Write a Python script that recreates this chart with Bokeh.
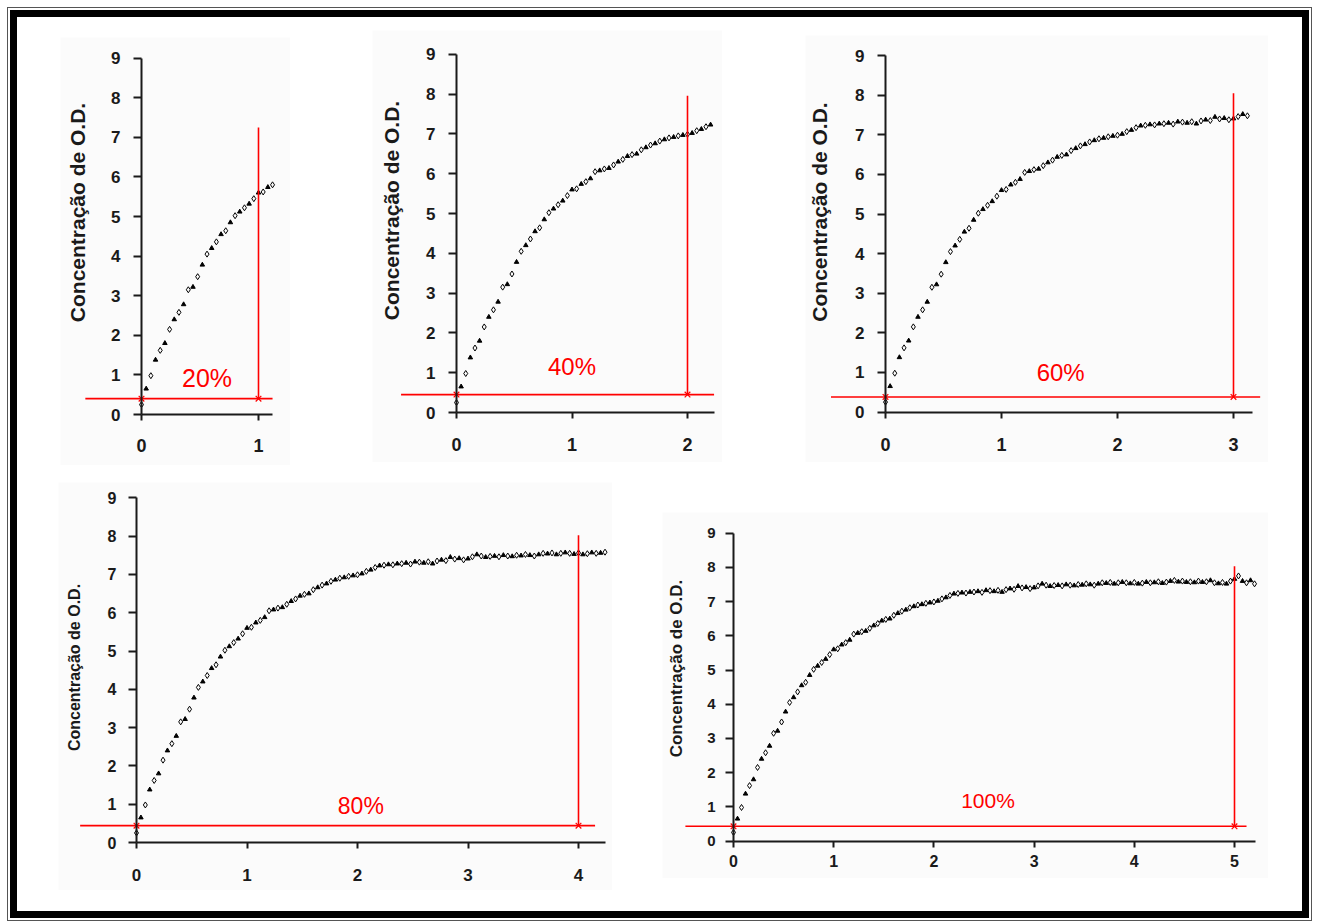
import numpy as np
from bokeh.plotting import figure
from bokeh.models import Range1d, FixedTicker, LinearAxis, Spacer, ColumnDataSource
from bokeh.layouts import row, column
from bokeh.embed import file_html
from bokeh.resources import INLINE
from bokeh.core.properties import value

# ---------------- data ----------------
SAMPLE_STEP = 0.04  # time between readings
od_values = [
    0.25, 0.65, 0.98, 1.38, 1.62, 1.80, 2.15, 2.40, 2.58, 2.78,
    3.15, 3.22, 3.48, 3.78, 4.05, 4.20, 4.36, 4.55, 4.64, 4.85,
    5.02, 5.12, 5.22, 5.32, 5.45, 5.60, 5.62, 5.74, 5.80, 5.88,
    6.05, 6.08, 6.12, 6.14, 6.22, 6.30, 6.36, 6.44, 6.48, 6.50,
    6.60, 6.66, 6.72, 6.76, 6.82, 6.86, 6.90, 6.92, 6.95, 6.97,
    6.99, 7.02, 7.08, 7.12, 7.18, 7.23, 7.24, 7.26, 7.25, 7.28,
    7.28, 7.30, 7.27, 7.33, 7.32, 7.30, 7.33, 7.28, 7.35, 7.38,
    7.36, 7.45, 7.40, 7.42, 7.38, 7.41, 7.46, 7.52, 7.48, 7.45,
    7.47, 7.48, 7.46, 7.50, 7.48, 7.47, 7.50, 7.49, 7.52, 7.50,
    7.48, 7.52, 7.55, 7.54, 7.56, 7.52, 7.55, 7.57, 7.55, 7.53,
    7.56, 7.52, 7.54, 7.57, 7.55, 7.56, 7.58, 7.54, 7.57, 7.60,
    7.62, 7.58, 7.60, 7.57, 7.58, 7.56, 7.60, 7.57, 7.58, 7.62,
    7.55, 7.53, 7.56, 7.52, 7.60, 7.66, 7.75, 7.60, 7.55, 7.62,
    7.52,
]
time_values = [round(i * SAMPLE_STEP, 2) for i in range(len(od_values))]

panel_labels = ["20%", "40%", "60%", "80%", "100%"]
panel_end_time = [1.12, 2.20, 3.12, 4.24, 5.20]
x_tick_values = [[0, 1], [0, 1, 2], [0, 1, 2, 3], [0, 1, 2, 3, 4], [0, 1, 2, 3, 4, 5]]
y_tick_values = [0, 1, 2, 3, 4, 5, 6, 7, 8, 9]
threshold_od = [0.40, 0.45, 0.38, 0.44, 0.43]
cut_time = [1, 2, 3, 4, 5]
cut_top_od = [7.25, 7.96, 8.05, 8.02, 8.03]
y_title = "Concentração de O.D."

# ---------------- layout / style (screen geometry) ----------------
ORIGIN = 17  # inner frame origin (px)
PANELS = [
    dict(left=60, top=37, w=230, h=428, x0=141, sx=117.0, y0=414.0, sy=39.6,
         xend=1.12, red_left=-0.48, red_right=1.12, lab_x=0.56, lab_y=0.91, lab_fs=25,
         tick_fs=17, xtick_fs=18, title_fs=21, title_c=5.10, title_off=53, xstand=18, ystand=13),
    dict(left=372, top=30, w=350, h=432, x0=456, sx=115.5, y0=412.0, sy=39.8,
         xend=2.23, red_left=-0.48, red_right=2.23, lab_x=1.0, lab_y=1.16, lab_fs=24,
         tick_fs=17, xtick_fs=18, title_fs=21, title_c=5.08, title_off=54, xstand=19, ystand=13),
    dict(left=805, top=35, w=463, h=427, x0=885, sx=116.0, y0=411.5, sy=39.6,
         xend=3.16, red_left=-0.47, red_right=3.23, lab_x=1.51, lab_y=1.01, lab_fs=24,
         tick_fs=17, xtick_fs=18, title_fs=21, title_c=5.06, title_off=55, xstand=20, ystand=13),
    dict(left=58, top=482, w=554, h=408, x0=136, sx=110.5, y0=842.0, sy=38.3,
         xend=4.24, red_left=-0.51, red_right=4.15, lab_x=2.03, lab_y=0.94, lab_fs=23,
         tick_fs=16, xtick_fs=17, title_fs=16, title_c=4.57, title_off=54, xstand=20, ystand=12),
    dict(left=662, top=512, w=606, h=366, x0=733, sx=100.2, y0=840.5, sy=34.2,
         xend=5.21, red_left=-0.48, red_right=5.12, lab_x=2.54, lab_y=1.19, lab_fs=21,
         tick_fs=15, xtick_fs=16, title_fs=17, title_c=5.04, title_off=48, xstand=8, ystand=10),
]
ROWS = [(0, 1, 2), (3, 4)]
ROW_TOP = [ORIGIN, 465]
ROW_BOTTOM = [465, 911]
INNER_RIGHT = 1302
FONT = "Liberation Sans"
PANEL_BG = "#fbfbfb"
AXIS_COLOR = "#1a1a1a"
RED = "#ff0000"


def make_panel(i):
    g = PANELS[i]
    xr = Range1d((g["left"] - g["x0"]) / g["sx"], (g["left"] + g["w"] - g["x0"]) / g["sx"])
    yr = Range1d((g["y0"] - (g["top"] + g["h"])) / g["sy"], (g["y0"] - g["top"]) / g["sy"])
    p = figure(width=g["w"], height=g["h"], x_range=xr, y_range=yr,
               output_backend="svg", toolbar_location=None, min_border=0,
               background_fill_color=PANEL_BG, border_fill_color=PANEL_BG,
               outline_line_color=None)
    p.grid.visible = False

    # axes fixed at the origin
    xa = p.xaxis[0]
    ya = p.yaxis[0]
    xa.fixed_location = 0
    ya.fixed_location = 0
    xa.bounds = (0, g["xend"])
    ya.bounds = (0, 9)
    xa.ticker = FixedTicker(ticks=x_tick_values[i])
    ya.ticker = FixedTicker(ticks=y_tick_values)
    for ax in (xa, ya):
        ax.axis_line_color = AXIS_COLOR
        ax.axis_line_width = 2
        ax.major_tick_line_color = AXIS_COLOR
        ax.major_tick_line_width = 2
        ax.major_tick_in = 0
        ax.minor_tick_line_color = None
        ax.major_label_text_font = FONT
        ax.major_label_text_font_style = "bold"
        ax.major_label_text_color = AXIS_COLOR
    ya.major_tick_out = 8
    xa.major_tick_out = 6
    ya.major_label_text_font_size = f"{g['tick_fs']}px"
    xa.major_label_text_font_size = f"{g['xtick_fs']}px"
    ya.major_label_standoff = g["ystand"]
    xa.major_label_standoff = g["xstand"]

    # y-axis title on its own (tickless) axis so that it can be centred like the original
    ta = LinearAxis(fixed_location=0, bounds=(g["title_c"] - 1, g["title_c"] + 1),
                    ticker=FixedTicker(ticks=[]), axis_line_color=None,
                    major_tick_line_color=None, minor_tick_line_color=None,
                    axis_label=y_title, axis_label_standoff=g["title_off"],
                    axis_label_text_font=FONT, axis_label_text_font_style="bold",
                    axis_label_text_font_size=f"{g['title_fs']}px",
                    axis_label_text_color=AXIS_COLOR)
    p.add_layout(ta, "left")

    # data points
    t_end = panel_end_time[i]
    ts = [t for t in time_values if t <= t_end + 1e-9]
    ys = od_values[:len(ts)]
    src_d = ColumnDataSource(dict(t=ts[0::2], od=ys[0::2]))
    src_t = ColumnDataSource(dict(t=ts[1::2], od=ys[1::2]))
    p.scatter("t", "od", source=src_d, marker="diamond", size=6,
              line_color="black", line_width=1, fill_color=None)
    p.scatter("t", "od", source=src_t, marker="triangle", size=4.5,
              line_color="black", fill_color="black")

    # red threshold / cut lines
    thr = threshold_od[i]
    p.segment(x0=[g["red_left"]], y0=[thr], x1=[g["red_right"]], y1=[thr],
              line_color=RED, line_width=1.6)
    p.segment(x0=[cut_time[i]], y0=[thr], x1=[cut_time[i]], y1=[cut_top_od[i]],
              line_color=RED, line_width=1.6)
    p.scatter(x=[0, cut_time[i]], y=[thr, thr], marker="x", size=8,
              line_color=RED, line_width=1.2)
    p.text(x=[g["lab_x"]], y=[g["lab_y"]], text=[panel_labels[i]],
           text_color=RED, text_font=value(FONT), text_font_size=f"{g['lab_fs']}px",
           text_align="center", text_baseline="middle")
    return p


figs = [make_panel(i) for i in range(len(PANELS))]

rows = []
for r, idxs in enumerate(ROWS):
    kids = []
    x = ORIGIN
    row_h = ROW_BOTTOM[r] - ROW_TOP[r]
    for i in idxs:
        g = PANELS[i]
        kids.append(Spacer(width=g["left"] - x, height=row_h))
        top_gap = g["top"] - ROW_TOP[r]
        bot_gap = ROW_BOTTOM[r] - (g["top"] + g["h"])
        col_kids = []
        if top_gap > 0:
            col_kids.append(Spacer(width=g["w"], height=top_gap))
        col_kids.append(figs[i])
        if bot_gap > 0:
            col_kids.append(Spacer(width=g["w"], height=bot_gap))
        kids.append(column(*col_kids, spacing=0))
        x = g["left"] + g["w"]
    kids.append(Spacer(width=INNER_RIGHT - x, height=row_h))
    rows.append(row(*kids, spacing=0))

inner = column(*rows, spacing=0,
               styles={"border": "7px solid #000000", "background-color": "#ffffff"})
outer = column(inner, styles={"border": "1px solid #555555", "padding": "2px",
                              "margin-left": "7px", "margin-top": "7px",
                              "background-color": "#ffffff"})

open("out.html", "w").write(file_html(outer, INLINE))
